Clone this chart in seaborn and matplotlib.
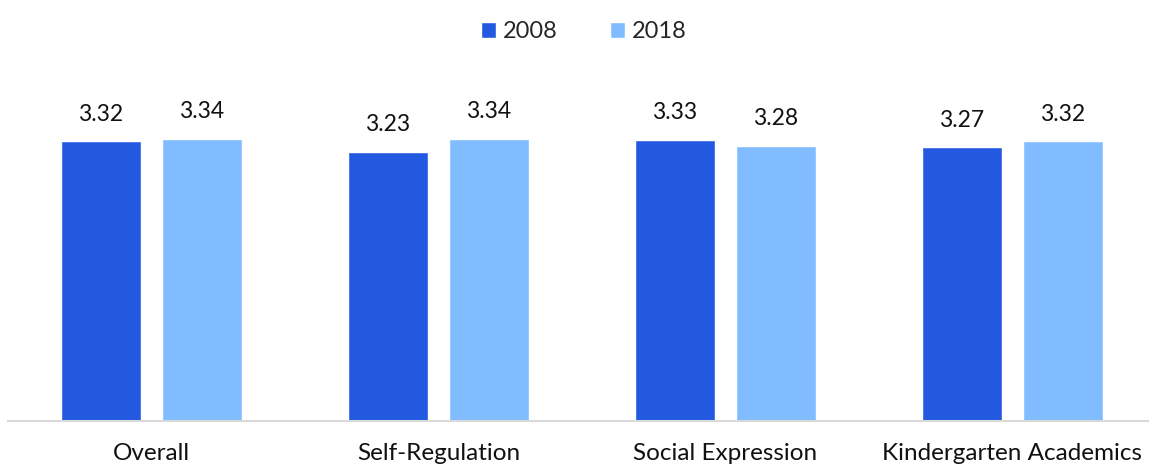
import pandas as pd
import matplotlib
matplotlib.use("Agg")
import matplotlib.pyplot as plt
import seaborn as sns

categories = ["Overall", "Self-Regulation", "Social Expression", "Kindergarten Academics"]
years = ["2008", "2018"]
values_2008 = [3.32, 3.23, 3.33, 3.27]
values_2018 = [3.34, 3.34, 3.28, 3.32]

df = pd.DataFrame({
    "category": categories * 2,
    "year": [years[0]] * 4 + [years[1]] * 4,
    "score": values_2008 + values_2018,
})

sns.set_style("white")
plt.rcParams["font.family"] = ["Lato", "DejaVu Sans"]

fig = plt.figure(figsize=(11.49, 4.69), dpi=100)
ax = fig.add_axes([8 / 1149, 48.5 / 469, 1141 / 1149, 301 / 469])

palette = {"2008": "#2359E0", "2018": "#80BCFF"}
sns.barplot(data=df, x="category", y="score", hue="year", palette=palette,
            width=0.704, gap=0.207, saturation=1, ax=ax)

for cont in ax.containers:
    ax.bar_label(cont, fmt="%.2f", padding=12, fontsize=16.5, color="#111111")

ax.set_ylim(1, 3.5)
ax.set_xlim(-0.5, -0.5 + 1141 / 287)
ax.set_yticks([])
ax.set_xlabel("")
ax.set_ylabel("")
for s in ["top", "left", "right"]:
    ax.spines[s].set_visible(False)
ax.spines["bottom"].set_color("#D9D9D9")
ax.spines["bottom"].set_linewidth(1.5)
ax.tick_params(axis="x", length=0, pad=16, labelsize=17.5, labelcolor="#111111")

handles, labels = ax.get_legend_handles_labels()
ax.get_legend().remove()
fig.legend(handles, labels, loc="upper center", bbox_to_anchor=(0.508, 1.0), ncol=2,
           frameon=False, fontsize=17, handlelength=0.65, handleheight=0.65,
           handletextpad=0.3, columnspacing=2.2)

fig.savefig("out.png", dpi=100)
